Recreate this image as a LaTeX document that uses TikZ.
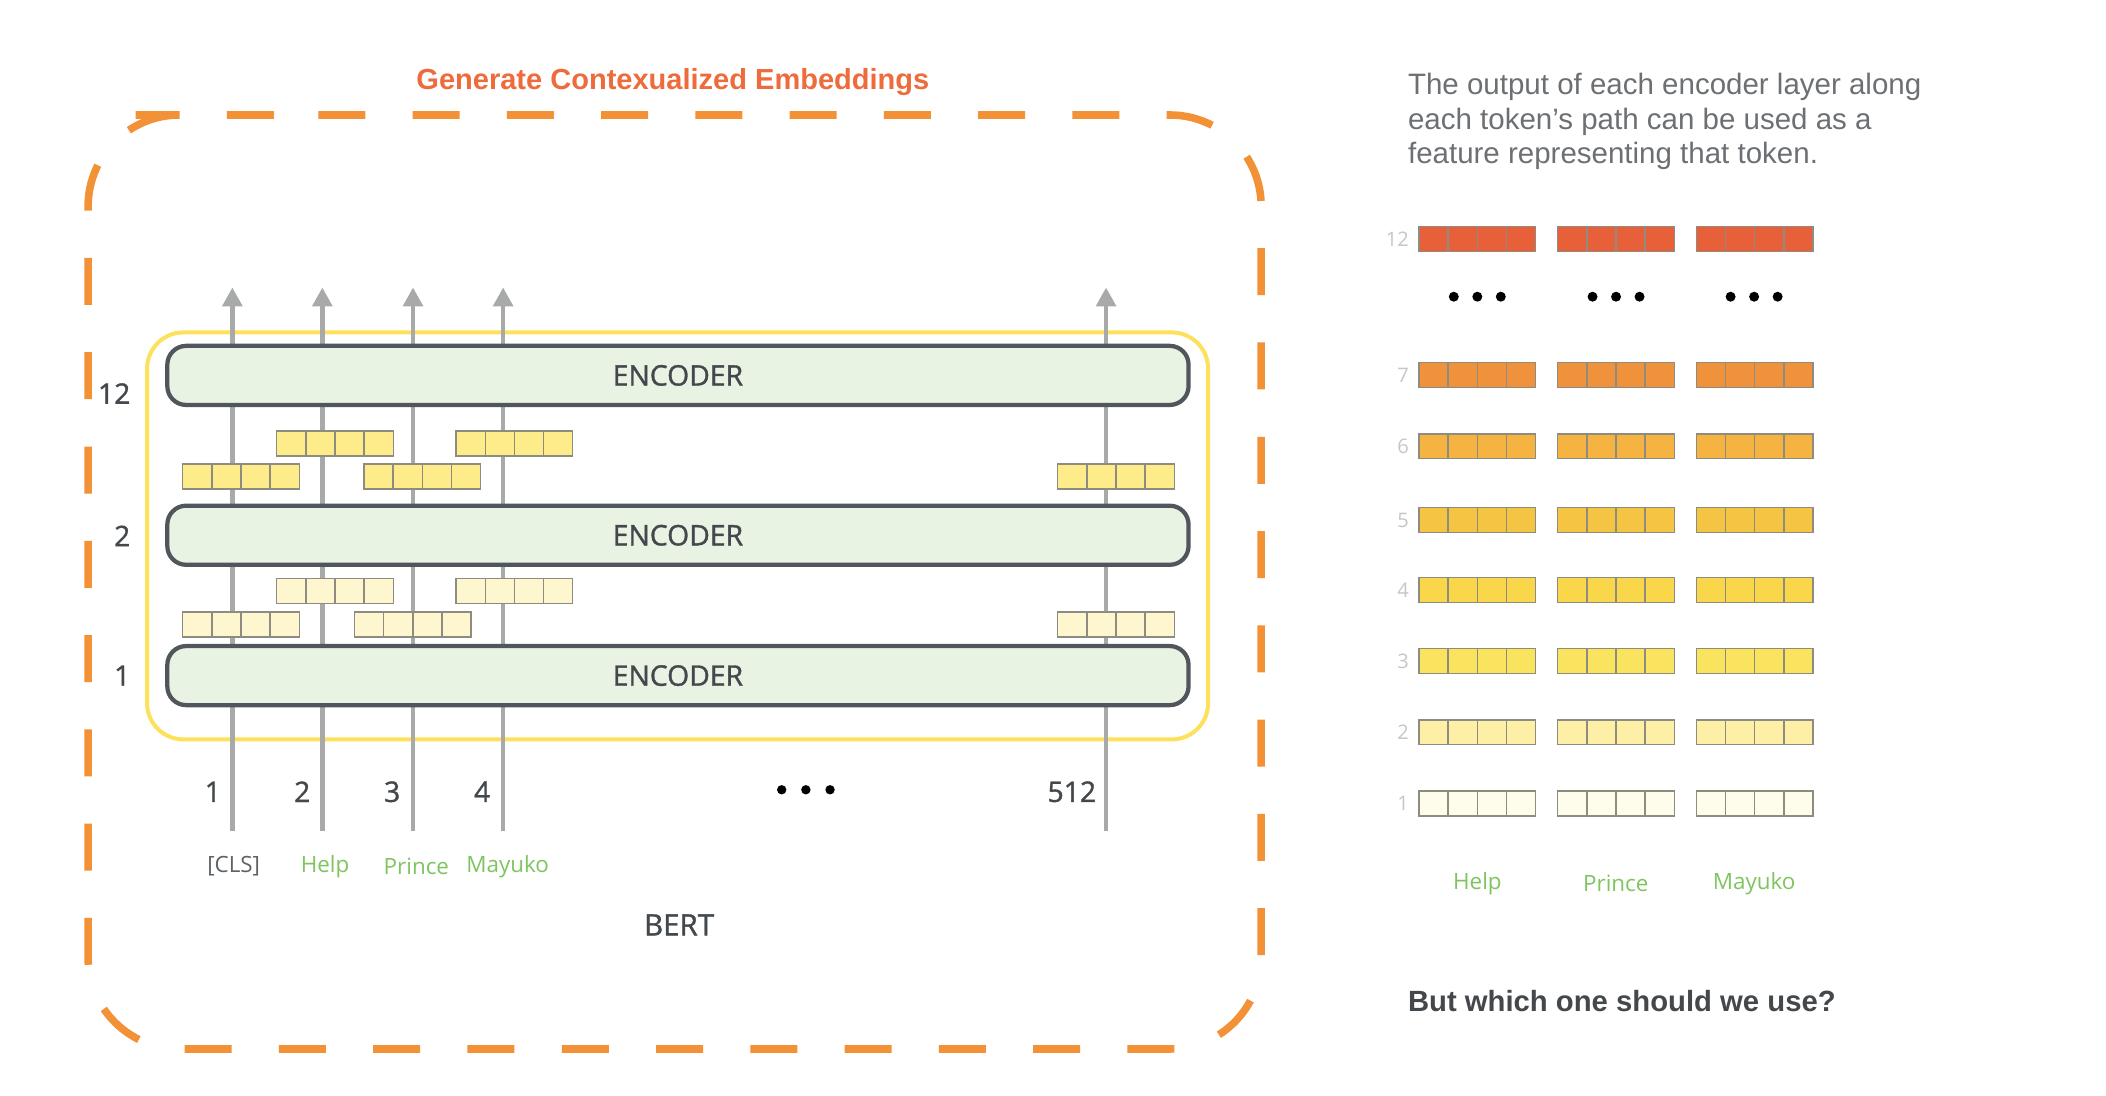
\documentclass[tikz,border=0pt]{standalone}
\usepackage{fontspec}
\setmainfont{Open Sans}
\newfontfamily\osemi{Open Sans}[FakeBold=1.2]
\newfontfamily\helv{Liberation Sans}
\usetikzlibrary{arrows.meta}
\definecolor{dashorange}{HTML}{F39136}
\definecolor{titleorange}{HTML}{EE6B3B}
\definecolor{boxyellow}{HTML}{FDE15A}
\definecolor{encfill}{HTML}{E8F3E3}
\definecolor{encdraw}{HTML}{50565C}
\definecolor{arrowgrey}{HTML}{A7AAA9}
\definecolor{txtdark}{HTML}{43484D}
\definecolor{clsgrey}{HTML}{5E6368}
\definecolor{tokgreen}{HTML}{7EC45F}
\definecolor{notegrey}{HTML}{6D7073}
\definecolor{rowgrey}{HTML}{C6C6C6}
\definecolor{cellgrey}{HTML}{8E8C80}
\definecolor{vecA}{HTML}{FEEC8B}
\definecolor{vecB}{HTML}{FEF6CF}
\definecolor{r12}{HTML}{E8603A}
\definecolor{r7}{HTML}{F0913C}
\definecolor{r6}{HTML}{F5B441}
\definecolor{r5}{HTML}{F6C443}
\definecolor{r4}{HTML}{F9D64A}
\definecolor{r3}{HTML}{FAE35E}
\definecolor{r2}{HTML}{FDF0A6}
\definecolor{r1}{HTML}{FEFCEA}

\begin{document}
\begin{tikzpicture}[x=0.02cm, y=-0.02cm,
  dashbox/.style={draw=dashorange, line width=3.2pt, rounded corners=1.36cm, dash pattern=on 0.7cm off 0.704cm},
  bertbox/.style={draw=boxyellow, line width=1.7pt, rounded corners=0.54cm},
  encoder/.style={draw=encdraw, fill=encfill, line width=1.8pt, rounded corners=0.28cm,
    minimum width=15.21cm, minimum height=0.88cm, inner sep=0pt, text=txtdark, font=\osemi\fontsize{12}{14}\selectfont},
  flow/.style={draw=arrowgrey, line width=2pt, -{Triangle[width=8.2pt,length=8pt]}},
  cell/.style={draw=cellgrey, line width=0.6pt},
  pics/tokvec/.style={code={\foreach \k in {0,...,3} \draw[cell,fill=#1] (\k*21.7,0) rectangle ++(21.7,18.5);}},
  numlbl/.style={text=txtdark, font=\osemi\fontsize{12}{14}\selectfont},
  toklbl/.style={text=tokgreen, font=\fontsize{9.5}{11}\selectfont},
  rowlbl/.style={text=rowgrey, font=\fontsize{8.5}{10}\selectfont, anchor=east, inner sep=1pt}]
  \useasboundingbox (0,0) rectangle (1568,816);

  % left: BERT
  \node[font=\helv\bfseries\fontsize{12.3}{14}\selectfont, text=titleorange] (title) at (501,61) {Generate Contexualized Embeddings};
  \draw[dashbox] (169,85.6) -- (939,85.6) -- (939,781) -- (65.6,781) -- (65.6,85.6) -- cycle;
  \draw[bertbox] (109.5,247.5) rectangle (899.5,550.5);
  \foreach \x [count=\i] in {173,240,307.5,374.6,823.5} {
    \coordinate (a\i) at (\x,619);
    \coordinate (b\i) at (\x,214);
    \draw[flow] (a\i) -- (b\i);
  }
  \node[encoder] (enc12) at (504.75,279.5) {ENCODER};
  \node[encoder] (enc2) at (504.75,398.5) {ENCODER};
  \node[encoder] (enc1) at (504.75,503) {ENCODER};
  \node[numlbl] (l12) at (85,293) {12};
  \node[numlbl] (l2) at (91,399) {2};
  \node[numlbl] (l1) at (91,503) {1};

  \foreach \x in {206,339.6} \pic at (\x,321) {tokvec=vecA};
  \foreach \x in {136,271,787.5} \pic at (\x,345.5) {tokvec=vecA};
  \foreach \x in {206,339.6} \pic at (\x,430.6) {tokvec=vecB};
  \foreach \x in {136,264,787.5} \pic at (\x,455.7) {tokvec=vecB};

  \foreach \x/\t in {158.5/1,225/2,292/3,359/4,798/512}
    \node[numlbl] (n\t) at (\x,589.5) {\t};
  \foreach \d in {-18,0,18} \fill (600+\d,588) circle[radius=3.5];
  \node[toklbl, text=clsgrey] (cls) at (174,645) {[CLS]};
  \node[toklbl] (help) at (242,645) {Help};
  \node[toklbl] (prince) at (310,645) {Prince};
  \node[toklbl] (mayuko) at (378,645) {Mayuko};
  \node[numlbl, font=\osemi\fontsize{12.5}{14}\selectfont] (bert) at (505.6,688.6) {BERT};

  % right: features per layer
  \node[anchor=north west, align=left, inner sep=0pt, text=notegrey, font=\helv\fontsize{12.5}{14.7}\selectfont] (note) at (1048,54)
    {The output of each encoder layer along\\each token’s path can be used as a\\feature representing that token.};
  \foreach \r/\y/\c in {12/168.8/r12,7/270/r7,6/323/r6,5/378/r5,4/430/r4,3/483/r3,2/536/r2,1/589/r1} {
    \foreach \x in {1056.5,1159.8,1263} \pic at (\x,\y) {tokvec=\c};
    \node[rowlbl] (row\r) at (1051,\y+9.3) {\r};
  }
  \foreach \cx in {1099.9,1203.2,1306}
    \foreach \d in {-17.5,0,17.5} \fill (\cx+\d,220.9) circle[radius=3.7];
  \node[toklbl] (rhelp) at (1100,658) {Help};
  \node[toklbl] (rprince) at (1203,658) {Prince};
  \node[toklbl] (rmayuko) at (1306,658) {Mayuko};
  \node[anchor=west, inner sep=0pt, text=txtdark, font=\helv\bfseries\fontsize{12.4}{14}\selectfont] (ask) at (1048,745) {But which one should we use?};
\end{tikzpicture}
\end{document}
